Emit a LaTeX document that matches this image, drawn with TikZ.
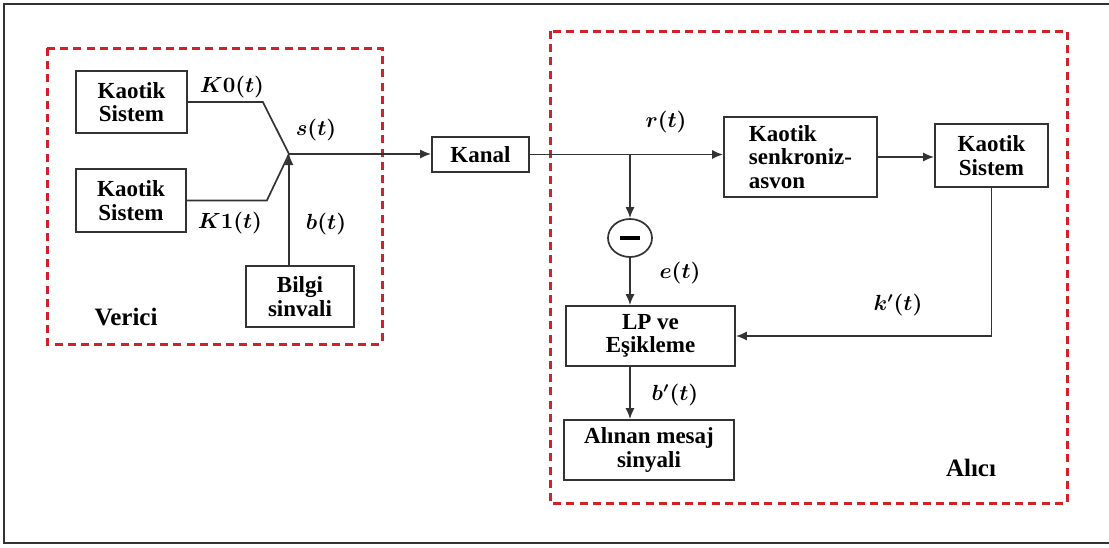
\documentclass[tikz,border=0pt]{standalone}
\usepackage{fontspec}
\setmainfont{Liberation Serif}
\usepackage{xcolor}
\usepackage{tikz}
\usetikzlibrary{arrows.meta,positioning,shapes.geometric}
\definecolor{dashred}{HTML}{D42027}
\definecolor{wiregray}{HTML}{333333}

\tikzset{
  blok/.style={draw=wiregray,line width=0.85pt,fill=white,align=center,inner sep=0pt,
    font=\bfseries\fontsize{11.5}{11.8}\selectfont},
  grup/.style={draw=dashred,line width=1.5pt,dash pattern=on 4pt off 2.6pt},
  tel/.style={draw=wiregray,line width=0.85pt},
  sig/.style={inner sep=0pt,font=\fontsize{10.5}{12}\selectfont\boldmath},
  etiket/.style={inner sep=0pt,font=\bfseries\fontsize{12.5}{14}\selectfont}
}

\begin{document}
\begin{tikzpicture}[x=0.5pt,y=-0.5pt,>={Latex[length=5.5pt,width=4.5pt]}]
\useasboundingbox (0,0) rectangle (1109,547);
% outer frame
\draw[line width=1pt,black!80] (1112,4) -- (4,4) -- (4,543) -- (1112,543);

% Verici
\draw[grup] (47,48) rectangle (382,344);
\node[blok,minimum width=55.5pt,minimum height=31pt] (ks1) at (131.5,102) {Kaotik\\Sistem};
\node[blok,minimum width=55pt,minimum height=31.5pt] (ks2) at (131,200.5) {Kaotik\\Sistem};
\node[blok,minimum width=54pt,minimum height=30.5pt] (bilgi) at (300,296.5) {Bilgi\\sinvali};
\coordinate (jn) at (289,154);
\node[sig] (lk0) at (232,87) {$K0(t)$};
\node[sig] (lk1) at (230,223) {$K1(t)$};
\node[sig] (ls) at (316,130) {$s(t)$};
\node[sig] (lb) at (326,224) {$b(t)$};
\node[etiket] (verici) at (126,317) {Verici};

\draw[tel] (ks1.east) -- ++(75,0) -- (jn);
\draw[tel] (ks2.east) -- ++(80,0) -- (jn);
\draw[tel,->] (jn |- bilgi.north) -- (jn);

% Kanal
\node[blok,minimum width=48.5pt,minimum height=17.5pt] (kanal) at (480.5,154.5) {Kanal};
\draw[tel,->] (jn) -- (kanal.west |- jn);

% Alici
\draw[grup] (550,31) rectangle (1067,503);
\node[blok,align=left,minimum width=76.5pt,minimum height=40pt] (senk) at (800.5,157) {Kaotik\\senkroniz-\\asvon};
\node[blok,minimum width=56.5pt,minimum height=31.5pt] (ks3) at (991.5,155.5) {Kaotik\\Sistem};
\node[ellipse,draw=wiregray,line width=0.85pt,inner sep=0pt,minimum width=22pt,minimum height=19pt] (fark) at (630,238) {\rule[-0.9pt]{10pt}{1.9pt}};
\node[blok,minimum width=84.5pt,minimum height=30pt] (lp) at (650.5,336) {LP ve\\Eşikleme};
\node[blok,minimum width=85pt,minimum height=30pt] (alinan) at (649,450) {Alınan mesaj\\sinyali};
\coordinate (br) at (630,154);

\node[sig] (lr) at (666,122) {$r(t)$};
\node[sig] (le) at (680,273) {$e(t)$};
\node[sig] (lkp) at (898,305) {$k'(t)$};
\node[sig] (lbp) at (675,395) {$b'(t)$};
\node[etiket] (alici) at (971,468) {Alıcı};

\draw[tel,->] (kanal.east) -- (kanal.east -| senk.west);
\draw[tel,->] (br) -- (fark.north);
\draw[tel,->] (fark.south) -- (fark |- lp.north);
\draw[tel,->] (senk.east) -- (senk.east -| ks3.west);
\draw[tel,->] (ks3.south) |- (lp.east);
\draw[tel,->] (lp.south -| fark) -- (alinan.north -| fark);
\end{tikzpicture}
\end{document}
